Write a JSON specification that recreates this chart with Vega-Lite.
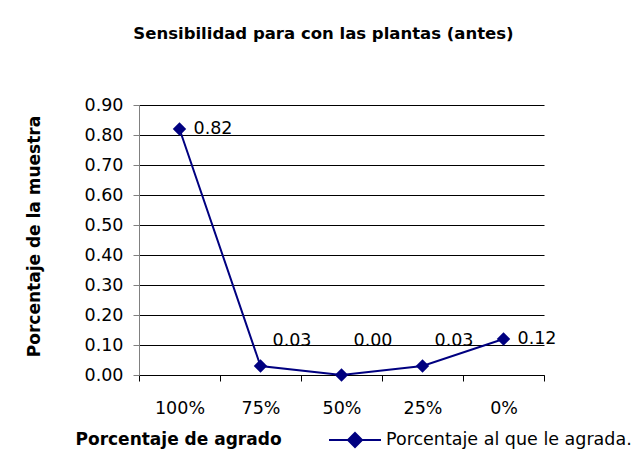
{
  "$schema": "https://vega.github.io/schema/vega-lite/v6.json",
  "width": 405,
  "height": 270,
  "autosize": "none",
  "padding": {"left": 139, "top": 105, "right": 96, "bottom": 87},
  "background": "white",
  "title": {
    "text": "Sensibilidad para con las plantas (antes)",
    "font": "DejaVu Sans",
    "fontWeight": "bold",
    "fontSize": 16.5,
    "color": "black",
    "anchor": "middle",
    "dx": -18,
    "offset": 54
  },
  "data": {
    "values": [
      {"agrado": "100%", "value": 0.82},
      {"agrado": "75%", "value": 0.03},
      {"agrado": "50%", "value": 0.0},
      {"agrado": "25%", "value": 0.03},
      {"agrado": "0%", "value": 0.12}
    ]
  },
  "encoding": {
    "x": {
      "field": "agrado",
      "type": "nominal",
      "sort": null,
      "bandPosition": 0.5,
      "scale": {"type": "band", "paddingInner": 0, "paddingOuter": 0},
      "axis": {
        "title": "Porcentaje de agrado",
        "titleFont": "DejaVu Sans",
        "titleFontWeight": "bold",
        "titleFontSize": 17,
        "titleColor": "black",
        "titleAlign": "left",
        "titleBaseline": "middle",
        "titleX": -64,
        "titleY": 64,
        "labelAngle": 0,
        "labelFont": "DejaVu Sans",
        "labelFontSize": 17.5,
        "labelColor": "black",
        "labelPadding": 18,
        "tickBand": "extent",
        "tickSize": 6,
        "tickColor": "black",
        "domainColor": "black",
        "grid": false
      }
    },
    "y": {
      "field": "value",
      "type": "quantitative",
      "scale": {"domain": [0, 0.9], "nice": false},
      "axis": {
        "title": "Porcentaje de la muestra",
        "titleFont": "DejaVu Sans",
        "titleFontWeight": "bold",
        "titleFontSize": 17,
        "titleColor": "black",
        "titleAngle": -90,
        "titleAlign": "center",
        "titleBaseline": "middle",
        "titleX": -105,
        "titleY": 131,
        "values": [0, 0.1, 0.2, 0.3, 0.4, 0.5, 0.6, 0.7, 0.8, 0.9],
        "format": ".2f",
        "labelOverlap": false,
        "labelBound": false,
        "labelFlush": false,
        "labelFont": "DejaVu Sans",
        "labelFontSize": 17.5,
        "labelColor": "black",
        "labelPadding": 10,
        "tickSize": 6,
        "tickColor": "#808080",
        "domainColor": "#808080",
        "grid": true,
        "gridColor": "black",
        "gridWidth": 1
      }
    }
  },
  "layer": [
    {
      "mark": {"type": "line", "strokeWidth": 2},
      "encoding": {
        "color": {
          "datum": "Porcentaje al que le agrada.",
          "scale": {"range": ["#000080"]},
          "legend": {
            "orient": "none",
            "legendX": 189,
            "legendY": 308,
            "title": null,
            "padding": 0,
            "symbolType": "M-1,0H1M0,-0.27L0.27,0L0,0.27L-0.27,0Z",
            "symbolSize": 2704,
            "symbolStrokeWidth": 2,
            "labelFont": "DejaVu Sans",
            "labelFontSize": 17.5,
            "labelColor": "black",
            "labelOffset": 4,
            "labelLimit": 400,
            "encode": {
              "symbols": {
                "update": {
                  "fill": {"value": "#000080"},
                  "stroke": {"value": "#000080"},
                  "strokeWidth": {"value": 2},
                  "opacity": {"value": 1}
                }
              }
            }
          }
        }
      }
    },
    {
      "mark": {"type": "point", "shape": "diamond", "filled": true, "size": 180, "color": "#000080", "opacity": 1}
    },
    {
      "transform": [{"filter": "datum.value >= 0.1"}],
      "mark": {"type": "text", "align": "left", "baseline": "middle", "dx": 14, "font": "DejaVu Sans", "fontSize": 17.5, "color": "black"},
      "encoding": {
        "text": {"field": "value", "type": "quantitative", "format": ".2f"}
      }
    },
    {
      "transform": [{"filter": "datum.value < 0.1"}],
      "mark": {"type": "text", "align": "left", "baseline": "middle", "dx": 12, "font": "DejaVu Sans", "fontSize": 17.5, "color": "black"},
      "encoding": {
        "y": {"datum": 0.113, "type": "quantitative"},
        "text": {"field": "value", "type": "quantitative", "format": ".2f"}
      }
    }
  ],
  "config": {
    "view": {"stroke": null}
  }
}
